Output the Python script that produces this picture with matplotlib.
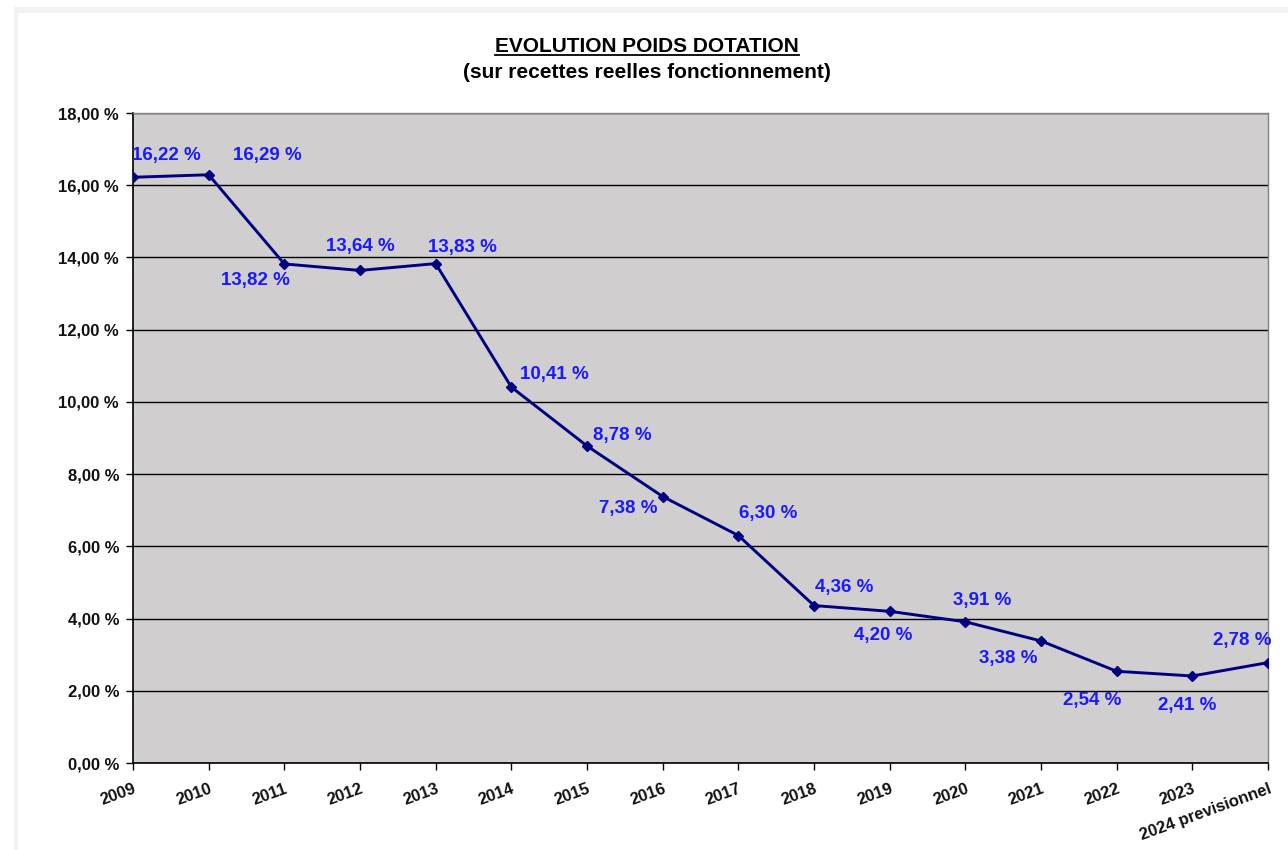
import matplotlib
matplotlib.use("Agg")
import matplotlib.pyplot as plt
from matplotlib.patches import Rectangle
from matplotlib.lines import Line2D
from matplotlib.ticker import FuncFormatter

# -----------------------------
# Data
# -----------------------------
years = ["2009", "2010", "2011", "2012", "2013", "2014", "2015", "2016",
         "2017", "2018", "2019", "2020", "2021", "2022", "2023",
         "2024 previsionnel"]
poids = [16.22, 16.29, 13.82, 13.64, 13.83, 10.41, 8.78, 7.38,
         6.30, 4.36, 4.20, 3.91, 3.38, 2.54, 2.41, 2.78]

# label offsets (pixels) relative to each point
label_dx = [33, 59, -29, 0, 27, 43, 35, -34, 30, 30, -6, 17, -33, -24, -5, -26]
label_dy = [22, 19, -17, 24, 16, 13, 10, -12, 22, 18, -24, 21, -18, -29, -30, 22]

FONT = "Liberation Sans"
W, H = 1288, 850

fig = plt.figure(figsize=(W / 100, H / 100), dpi=100)

# light grey frame around the chart
fig.patches.append(Rectangle((14 / W, 0), 1, 1 - 7 / H, transform=fig.transFigure,
                             facecolor="#f2f2f2", edgecolor="none", zorder=-10))
fig.patches.append(Rectangle((18 / W, 0), 1, 1 - 13 / H, transform=fig.transFigure,
                             facecolor="white", edgecolor="none", zorder=-9))

ax = fig.add_axes([133 / W, 1 - 763 / H, (1268 - 133) / W, (763 - 113) / H])
ax.set_facecolor("#d0cece")

x = list(range(len(years)))
ax.plot(x, poids, color="#000080", linewidth=2.1, marker="D", markersize=5.5, zorder=3)

for i, v in enumerate(poids):
    ax.annotate(f"{v:.2f} %".replace(".", ","), (i, v),
                xytext=(label_dx[i], label_dy[i]), textcoords="offset pixels",
                ha="center", va="center", color="#1a1aff",
                fontsize=13.5, fontweight="bold", family=FONT, zorder=4)

ax.set_xlim(0, len(years) - 1)
ax.set_ylim(0, 18)
ax.set_yticks(range(0, 19, 2))
ax.yaxis.set_major_formatter(FuncFormatter(lambda v, p: f"{v:.2f} %".replace(".", ",")))
ax.grid(axis="y", color="black", linewidth=1.0)
ax.set_axisbelow(True)

ax.set_xticks(x)
ax.set_xticklabels(years, rotation=20, ha="right", va="top", rotation_mode="anchor")
ax.tick_params(axis="both", direction="out", length=5, width=1, color="black")
ax.tick_params(axis="x", pad=8)
ax.tick_params(axis="y", pad=5)
for lab in ax.get_xticklabels() + ax.get_yticklabels():
    lab.set_family(FONT)
    lab.set_fontweight("bold")
    lab.set_fontsize(12)
    lab.set_color("#111111")

for s in ["left", "bottom"]:
    ax.spines[s].set_color("black")
    ax.spines[s].set_linewidth(1.2)
for s in ["top", "right"]:
    ax.spines[s].set_color("#808080")
    ax.spines[s].set_linewidth(1.0)

# -----------------------------
# Title (underlined) + subtitle
# -----------------------------
t1 = fig.text(647 / W, 1 - 46 / H, "EVOLUTION POIDS DOTATION", ha="center", va="center",
              fontsize=15, fontweight="bold", family=FONT)
fig.text(647 / W, 1 - 72 / H, "(sur recettes reelles fonctionnement)", ha="center",
         va="center", fontsize=15, fontweight="bold", family=FONT)

fig.canvas.draw()
bb = t1.get_window_extent(renderer=fig.canvas.get_renderer())
yline = (bb.y0 + 1) / H
fig.add_artist(Line2D([bb.x0 / W, bb.x1 / W], [yline, yline], color="black",
                      linewidth=1.3, transform=fig.transFigure))

fig.savefig("out.png", dpi=100)
